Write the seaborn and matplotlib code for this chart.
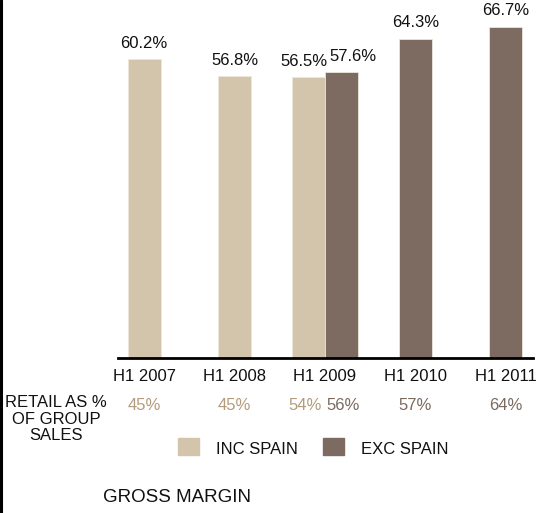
import matplotlib
matplotlib.use("Agg")
import matplotlib.pyplot as plt
import matplotlib.transforms as mtransforms
from matplotlib.lines import Line2D
from matplotlib.patches import Rectangle
import seaborn as sns
import pandas as pd

# Gross margin by half-year, including / excluding Spain
periods = ["H1 2007", "H1 2008", "H1 2009", "H1 2010", "H1 2011"]
inc_periods = ["H1 2007", "H1 2008", "H1 2009"]
inc_margin = [60.2, 56.8, 56.5]
exc_periods = ["H1 2009", "H1 2010", "H1 2011"]
exc_margin = [57.6, 64.3, 66.7]

# Retail as % of group sales
inc_retail = [45, 45, 54]
exc_retail = [56, 57, 64]

series_names = ["INC SPAIN", "EXC SPAIN"]
INC_COLOR = "#d3c4ac"
EXC_COLOR = "#7d6b61"
INC_TEXT = "#b39c7c"
EXC_TEXT = "#7a6a60"

df = pd.concat([
    pd.DataFrame({"period": inc_periods, "margin": inc_margin, "series": series_names[0]}),
    pd.DataFrame({"period": exc_periods, "margin": exc_margin, "series": series_names[1]}),
])

sns.set_theme(style="white")
plt.rcParams["font.family"] = ["Liberation Sans", "DejaVu Sans"]

W, H = 536, 513
FS = 12
fig = plt.figure(figsize=(W / 100, H / 100), dpi=100)
ax = fig.add_axes([118 / W, 1 - 358 / H, (533 - 118) / W, 358 / H])

sns.barplot(data=df, x="period", y="margin", hue="series", order=periods,
            hue_order=series_names, palette=[INC_COLOR, EXC_COLOR],
            dodge=True, width=0.73, saturation=1, legend=False, ax=ax,
            edgecolor="#ece6dc", linewidth=0.6)

# Periods with a single series get their bar centred on the category
counts = df.groupby("period").size()
for cont in ax.containers:
    for bar in cont:
        h = bar.get_height()
        if h != h or h == 0:
            continue
        cx = round(bar.get_x() + bar.get_width() / 2)
        if counts[periods[cx]] == 1:
            bar.set_x(cx - bar.get_width() / 2)

# Value labels; the shared period spreads its two labels apart
for k, cont in enumerate(ax.containers):
    labels = [f"{v:.1f}%" if v == v else "" for v in cont.datavalues]
    anns = ax.bar_label(cont, labels=labels, padding=6, fontsize=FS, color="#111111")
    for bar, ann in zip(cont, anns):
        cx = round(bar.get_x() + bar.get_width() / 2)
        if counts[periods[cx]] == 2:
            dx = -3 if k == 0 else 8
            ann.xyann = (dx, ann.xyann[1])

ax.set_ylim(0, 72.1)
ax.set_xlim(-0.29, 4.30)
ax.set_xlabel("")
ax.set_ylabel("")
ax.set_yticks([])
ax.tick_params(axis="x", length=0, pad=8, labelsize=FS, colors="#111111")
for s in ["top", "right", "left"]:
    ax.spines[s].set_visible(False)
ax.spines["bottom"].set_color("black")
ax.spines["bottom"].set_linewidth(2)

# Retail share row beneath the period labels
ry = 1 - 405 / H
btrans = mtransforms.blended_transform_factory(ax.transData, fig.transFigure)
for p, v in zip(inc_periods, inc_retail):
    i = periods.index(p)
    x = i - 0.22 if p in exc_periods else i
    ax.text(x, ry, f"{v}%", transform=btrans, ha="center", va="center",
            fontsize=FS, color=INC_TEXT)
for p, v in zip(exc_periods, exc_retail):
    i = periods.index(p)
    x = i + 0.2 if p in inc_periods else i
    ax.text(x, ry, f"{v}%", transform=btrans, ha="center", va="center",
            fontsize=FS, color=EXC_TEXT)

fig.text(56 / W, 1 - 419 / H, "RETAIL AS %\nOF GROUP\nSALES", ha="center",
         va="center", fontsize=FS, color="#111111", linespacing=1.1)

# Legend
for (x0, name, col) in [(178, series_names[0], INC_COLOR), (323, series_names[1], EXC_COLOR)]:
    fig.add_artist(Rectangle((x0 / W, 1 - 455 / H), 21 / W, 17 / H,
                             transform=fig.transFigure, color=col))
    fig.text((x0 + 38) / W, 1 - 449 / H, name, ha="left", va="center",
             fontsize=FS, color="#111111")

fig.text(103 / W, 1 - 497 / H, "GROSS MARGIN", ha="left", va="center",
         fontsize=13.5, color="#111111")

# Left frame edge
fig.add_artist(Line2D([1.2 / W, 1.2 / W], [0, 1], transform=fig.transFigure,
                      color="black", linewidth=2.2))

fig.savefig("out.png", dpi=100)
